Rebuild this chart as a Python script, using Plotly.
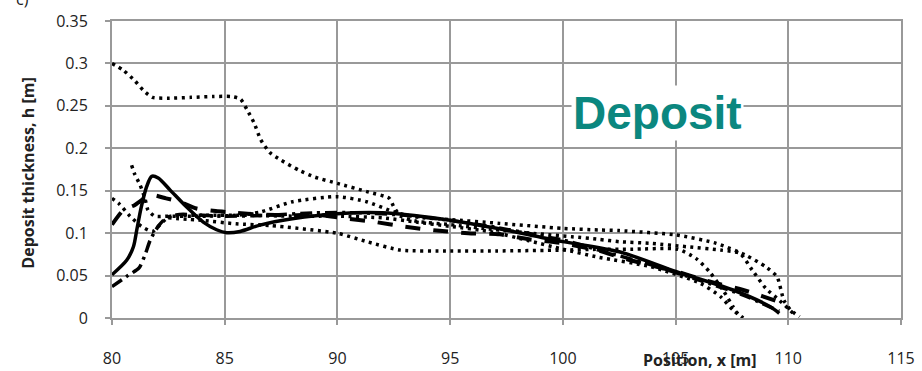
import plotly.graph_objects as go

# ---------------- data ----------------
solid_x = [80, 80.65, 80.95, 81.1, 81.3, 81.54, 81.76, 82.05, 82.57, 83.3, 84.05, 84.64, 85.09, 85.68,
           86.56, 88, 90, 92, 94.55, 97, 100, 102.5, 105.04, 107.55, 109.2, 109.6]
solid_y = [0.051, 0.068, 0.084, 0.104, 0.131, 0.155, 0.167, 0.165, 0.151, 0.131, 0.113, 0.104, 0.1005, 0.102,
           0.1095, 0.117, 0.123, 0.124, 0.117, 0.106, 0.090, 0.078, 0.0546, 0.033, 0.0133, 0.0055]

dash_x = [80, 80.5, 81, 81.7, 82.4, 83, 83.75, 84.6, 85.5, 86.5, 88, 89, 90.3, 91.6, 93, 94.4, 95.8,
          97.2, 98.5, 100, 101.5, 103, 105, 106.5, 108, 109.6]
dash_y = [0.11, 0.127, 0.133, 0.145, 0.141, 0.137, 0.129, 0.126, 0.124, 0.122, 0.121, 0.122, 0.1174, 0.1134,
          0.1076, 0.103, 0.100, 0.0986, 0.0927, 0.088, 0.080, 0.068, 0.055, 0.043, 0.033, 0.019]

dashdot_x = [80, 80.65, 81.2, 81.46, 81.7, 82.05, 82.4, 83, 85, 87, 89, 91, 93, 95, 97, 99, 100,
             102, 104, 106, 108, 109.6]
dashdot_y = [0.037, 0.049, 0.059, 0.074, 0.092, 0.108, 0.118, 0.122, 0.120, 0.121, 0.124, 0.124, 0.121,
             0.115, 0.107, 0.097, 0.092, 0.077, 0.062, 0.045, 0.027, 0.008]

dot1_x = [80, 80.5, 81, 81.4, 81.8, 82.5, 83.5, 84.5, 85.3, 85.7, 86, 86.3, 86.6, 87, 87.5, 88.3, 89, 90,
          91.3, 92.3, 92.5, 92.8, 93.5, 95, 97, 99, 100.4, 101.6, 102.5, 103.9, 105.5, 107, 107.85,
          108.4, 109, 109.6, 110.2]
dot1_y = [0.300, 0.292, 0.280, 0.268, 0.260, 0.259, 0.260, 0.261, 0.261, 0.258, 0.245, 0.230, 0.210, 0.195,
          0.186, 0.174, 0.166, 0.1586, 0.149, 0.141, 0.131, 0.120, 0.114, 0.110, 0.104, 0.099, 0.0958,
          0.0927, 0.0899, 0.088, 0.084, 0.080, 0.0762, 0.0565, 0.035, 0.021, 0.006]

dot2_x = [80.87, 81.0, 81.24, 81.46, 81.6, 81.9, 82.5, 84, 85.5, 86.6, 88, 90, 91.3, 92.5, 93.5, 95, 97.2,
          100, 101.6, 102.5, 105.04, 106.8, 108.1, 109.0, 109.5, 109.8, 110.1, 110.5]
dot2_y = [0.180, 0.170, 0.157, 0.141, 0.127, 0.120, 0.120, 0.120, 0.121, 0.125, 0.137, 0.143, 0.137, 0.125,
          0.119, 0.116, 0.1115, 0.1056, 0.1037, 0.103, 0.0978, 0.088, 0.0742, 0.0604, 0.0487, 0.021,
          0.0094, 0.0015]

dot3_x = [80, 80.3, 80.8, 81.3, 81.8, 82.2, 82.6, 84, 86, 88, 90, 92, 93.5, 95, 96.8, 98.5, 100, 101.6,
          103.9, 106.1, 107, 107.55, 108]
dot3_y = [0.141, 0.135, 0.120, 0.108, 0.102, 0.112, 0.120, 0.121, 0.121, 0.120, 0.120, 0.118, 0.113, 0.108,
          0.1017, 0.091, 0.081, 0.0715, 0.0604, 0.0409, 0.025, 0.0094, 0.0]

dot4_x = [82.5, 84, 85.5, 87, 90, 91.3, 92.8, 95, 97, 100, 101.6, 103, 105.1, 105.9, 106.5, 107.1, 107.55,
          107.85]
dot4_y = [0.118, 0.115, 0.111, 0.109, 0.0998, 0.090, 0.080, 0.079, 0.079, 0.080, 0.081, 0.081, 0.081,
          0.0703, 0.0546, 0.033, 0.0133, 0.0015]

x_ticks = [80, 85, 90, 95, 100, 105, 110, 115]
y_ticks = [0, 0.05, 0.1, 0.15, 0.2, 0.25, 0.3, 0.35]
y_tick_text = ["0", "0.05", "0.1", "0.15", "0.2", "0.25", "0.3", "0.35"]

# ---------------- figure ----------------
fig = go.Figure()
DOT = "3px,4.5px"

for xs, ys in [(dot1_x, dot1_y), (dot2_x, dot2_y), (dot3_x, dot3_y), (dot4_x, dot4_y)]:
    fig.add_trace(go.Scatter(x=xs, y=ys, mode="lines", line=dict(color="black", width=3.5, dash=DOT,
                                                                 shape="spline", smoothing=0.6),
                             showlegend=False, hoverinfo="skip"))

fig.add_trace(go.Scatter(x=dashdot_x, y=dashdot_y, mode="lines",
                         line=dict(color="black", width=3.5, dash="12px,5px,3px,5px",
                                   shape="spline", smoothing=0.6),
                         showlegend=False, hoverinfo="skip"))
fig.add_trace(go.Scatter(x=dash_x, y=dash_y, mode="lines",
                         line=dict(color="black", width=4, dash="15px,13px", shape="spline", smoothing=0.6),
                         showlegend=False, hoverinfo="skip"))
fig.add_trace(go.Scatter(x=solid_x, y=solid_y, mode="lines",
                         line=dict(color="black", width=3.5, shape="spline", smoothing=0.8),
                         showlegend=False, hoverinfo="skip"))

GRID = "#999999"
fig.update_layout(
    width=922, height=371,
    margin=dict(l=112, r=21, t=21, b=53),
    paper_bgcolor="white", plot_bgcolor="white",
    font=dict(family="Open Sans", size=16, color="#222"),
    xaxis=dict(range=[80, 115], tickvals=x_ticks, showgrid=True, gridcolor=GRID, gridwidth=2,
               zeroline=False, showline=True, linecolor=GRID, linewidth=2, mirror=True, automargin=False,
               ticks="outside", ticklen=5, tickwidth=2, tickcolor=GRID, ticklabelstandoff=20,
               tickfont=dict(family="Open Sans", size=16, color="#222")),
    yaxis=dict(range=[0, 0.35], tickvals=y_ticks, ticktext=y_tick_text, showgrid=True, gridcolor=GRID,
               gridwidth=2, zeroline=False, showline=True, linecolor=GRID, linewidth=2, mirror=True,
               automargin=False,
               ticks="outside", ticklen=5, tickwidth=2, tickcolor=GRID, ticklabelstandoff=14,
               tickfont=dict(family="Open Sans", size=16, color="#222")),
    annotations=[
        dict(text="<b>Position, x [m]</b>", xref="paper", yref="paper", x=0.745, y=-0.143,
             xanchor="center", yanchor="middle", showarrow=False,
             font=dict(family="Open Sans", size=16, color="#222")),
        dict(text="<b>Deposit thickness, h [m]</b>", xref="paper", yref="paper", x=-0.107, y=0.488,
             xanchor="center", yanchor="middle", textangle=-90, showarrow=False,
             font=dict(family="Open Sans", size=16, color="#222")),
        dict(text="<b>Deposit</b>", xref="paper", yref="paper", x=0.691, y=0.690,
             xanchor="center", yanchor="middle", showarrow=False, bgcolor="white",
             font=dict(family="Liberation Sans", size=46, color="#0b877f")),
        dict(text="c)", xref="paper", yref="paper", x=-0.114, y=1.075,
             xanchor="center", yanchor="middle", showarrow=False,
             font=dict(family="Open Sans", size=16, color="#222")),
    ],
)

fig.write_html("out.html")
